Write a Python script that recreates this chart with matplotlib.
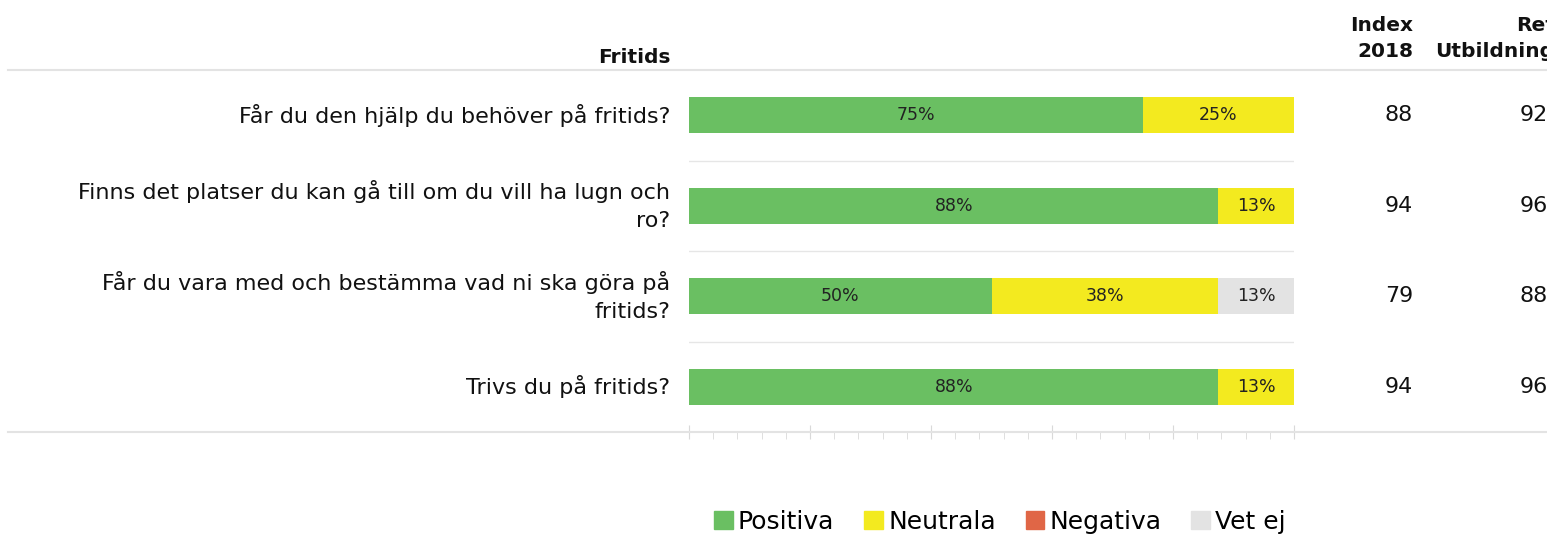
import matplotlib.pyplot as plt
from matplotlib.lines import Line2D
from matplotlib.patches import Patch
from matplotlib.ticker import MultipleLocator

plt.rcParams['font.family'] = ['DejaVu Sans']

questions = [
    'Får du den hjälp du behöver på fritids?',
    'Finns det platser du kan gå till om du vill ha lugn och\nro?',
    'Får du vara med och bestämma vad ni ska göra på\nfritids?',
    'Trivs du på fritids?',
]
positiva = [75, 87.5, 50, 87.5]
neutrala = [25, 12.5, 37.5, 12.5]
negativa = [0, 0, 0, 0]
vet_ej = [0, 0, 12.5, 0]
index_2018 = [88, 94, 79, 94]
ref_utb = [92, 96, 88, 96]

series = ['Positiva', 'Neutrala', 'Negativa', 'Vet ej']
colors = ['#6abf62', '#f3ea1f', '#e06646', '#e3e3e3']

W, H = 1547, 536
fig = plt.figure(figsize=(W / 100, H / 100), dpi=100)
# bar area in pixels: x 689..1294, y 70..432
ax = fig.add_axes([689 / W, 1 - 432 / H, (1294 - 689) / W, (432 - 70) / H])

rows = list(range(len(questions)))
left = [0] * len(questions)
for name, vals, col in zip(series, [positiva, neutrala, negativa, vet_ej], colors):
    ax.barh(rows, vals, left=left, height=0.4, color=col, label=name)
    for r, v, l in zip(rows, vals, left):
        if v > 0:
            ax.text(l + v / 2, r, f'{int(v + 0.5)}%', ha='center', va='center',
                    fontsize=12.5, color='#222222')
    left = [a + b for a, b in zip(left, vals)]

ax.set_xlim(0, 100)
ax.set_ylim(len(questions) - 0.5, -0.5)
for y in [0.5, 1.5, 2.5]:
    ax.axhline(y, color='#e6e6e6', lw=1)

for s in ['top', 'left', 'right', 'bottom']:
    ax.spines[s].set_visible(False)
ax.set_yticks([])
ax.xaxis.set_major_locator(MultipleLocator(20))
ax.xaxis.set_minor_locator(MultipleLocator(4))
ax.tick_params(axis='x', which='major', direction='inout', length=10, color='#d9d9d9',
               labelbottom=False)
ax.tick_params(axis='x', which='minor', direction='out', length=5, color='#d9d9d9')

for r, q in enumerate(questions):
    ax.text(-3.1, r, q, ha='right', va='center', fontsize=16, color='#111111',
            linespacing=1.5, clip_on=False)
    ax.text(119.7, r, str(index_2018[r]), ha='right', va='center', fontsize=16,
            color='#111111', clip_on=False)
    ax.text(141.9, r, str(ref_utb[r]), ha='right', va='center', fontsize=16,
            color='#111111', clip_on=False)

ax.text(-3.1, -0.64, 'Fritids', ha='right', va='center', fontsize=14.5,
        fontweight='bold', color='#111111', clip_on=False)
ax.text(119.7, -0.85, 'Index\n2018', ha='right', va='center', fontsize=14.5,
        fontweight='bold', color='#111111', linespacing=1.45, clip_on=False)
ax.text(143.0, -0.85, 'Ref\nUtbildning', ha='right', va='center', fontsize=14.5,
        fontweight='bold', color='#111111', linespacing=1.45, clip_on=False)

# full-width rules at top and bottom of the table
for ypx in [70, 432]:
    fig.add_artist(Line2D([8 / W, 1], [1 - ypx / H] * 2, color='#e3e3e3', lw=1.5))

handles = [Patch(color=c) for c in colors]
fig.legend(handles, series, loc='center', bbox_to_anchor=(1000 / W, 14 / H), ncol=4,
           frameon=False, fontsize=18, handlelength=0.75, handleheight=0.75,
           handletextpad=0.2, columnspacing=1.2)

fig.savefig('out.png', dpi=100)
